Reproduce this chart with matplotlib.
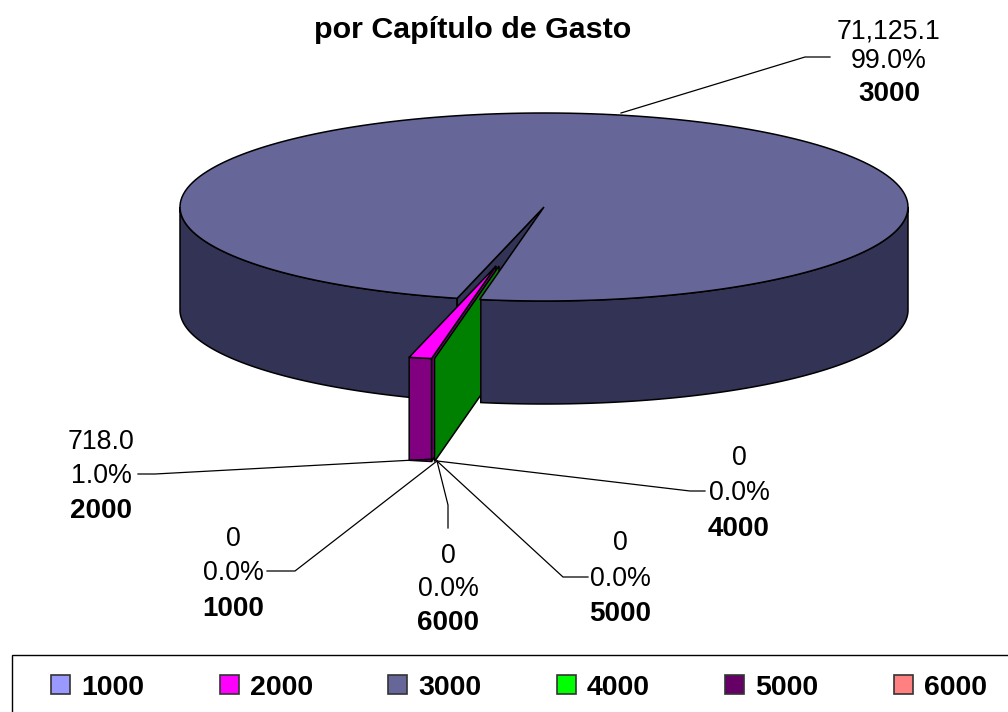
import numpy as np
import matplotlib
matplotlib.use("Agg")
import matplotlib.pyplot as plt
from matplotlib.patches import Polygon, Rectangle

plt.rcParams['font.family'] = ['Liberation Sans', 'DejaVu Sans']

#data
capitulos = ["1000", "2000", "3000", "4000", "5000", "6000"]
valores = [0, 718.0, 71125.1, 0, 0, 0]
colores = ["#9999FF", "#FF00FF", "#666699", "#00FF00", "#660066", "#FF8080"]
sombra = ["#4D4D80", "#800080", "#333355", "#008000", "#330033", "#804040"]

#label layout: centre x, y of the three lines, leader line
etiquetas = {
    "3000": (889, (30, 59, 92), [(621, 113), (805, 57), (830, 57)]),
    "2000": (101, (440, 474, 509), [(433, 459), (155, 474), (138, 474)]),
    "1000": (233, (537, 571, 607), [(437, 461), (295, 571), (267, 571)]),
    "6000": (448, (554, 587, 621), [(437, 461), (448, 505), (448, 528)]),
    "5000": (620, (541, 577, 612), [(437, 461), (563, 577), (588, 577)]),
    "4000": (739, (456, 491, 527), [(437, 461), (690, 491), (705, 491)]),
}

cx, cy, rx, ry, alto = 544, 207, 364, 94, 103
inicio = 100.2           #angle where the first slice starts, clockwise on screen
sep = (-48, 59)          #how far the small slice is pulled out

fig = plt.figure(figsize=(10.08, 7.12), dpi=100)
ax = fig.add_axes([0, 0, 1, 1])
ax.set_xlim(0, 1008)
ax.set_ylim(712, 0)
ax.axis("off")

def borde(a1, a2, dx=0, dy=0, n=200):
    t = np.radians(np.linspace(a1, a2, n))
    return np.column_stack([cx + dx + rx*np.cos(t), cy + dy + ry*np.sin(t)])

def pared(a1, a2, color, z):
    arriba = borde(a1, a2)
    abajo = arriba[::-1] + [0, alto]
    ax.add_patch(Polygon(np.vstack([arriba, abajo]), closed=True, fc=color, ec="black", lw=1.1, zorder=z))

total = sum(valores)
grados = [v/total*360 for v in valores]
a2000 = inicio + grados[0] + grados[1]      #end of slice 2000, start of 3000
a3000 = a2000 + grados[2]

#left side wall, then the inner wall of the gap
pared(a2000, 180, sombra[2], 1)
p = borde(a2000, a2000, n=1)[0]
ax.add_patch(Polygon([(cx, cy), p, p + [0, alto], (cx, cy + alto)], closed=True,
                     fc=sombra[2], ec="black", lw=1.1, zorder=2))

#walls of the empty slices that come out with 2000
q = borde(inicio, inicio, sep[0], sep[1], n=1)[0]
centro = np.array([cx + sep[0], cy + sep[1]])
#thin purple strip, green wall 3 px to its right
for d, col, z in [(0, sombra[1], 3), (3, sombra[3], 3.5)]:
    c = centro + [d, 0]
    e = q + [d, 0]
    ax.add_patch(Polygon([c, e, e + [0, alto], c + [0, alto]], closed=True,
                         fc=col, ec="black", lw=1.1, zorder=z))

#right wall and top of the big slice
pared(0, 100, sombra[2], 4)
ax.add_patch(Polygon(np.vstack([[cx, cy], borde(a2000, a3000)]), closed=True,
                     fc=colores[2], ec="black", lw=1.1, zorder=5))

#slice 2000
r = borde(a2000, a2000, sep[0], sep[1], n=1)[0]
ax.add_patch(Polygon([r, q, q + [0, alto], r + [0, alto]], closed=True,
                     fc=sombra[1], ec="black", lw=1.1, zorder=7))
ax.add_patch(Polygon(np.vstack([centro, borde(inicio, a2000, sep[0], sep[1], n=20)]), closed=True,
                     fc=colores[1], ec="black", lw=1.1, zorder=8))

#labels
fs = 19.3
for nombre, v in zip(capitulos, valores):
    x, ys, linea = etiquetas[nombre]
    ax.plot(*zip(*linea), color="black", lw=0.9, zorder=9)
    txt = f"{v:,.1f}" if v else "0"
    ax.text(x, ys[0] + 2, txt, ha="center", va="center", fontsize=fs, zorder=10)
    ax.text(x, ys[1] + 2, f"{v/total*100:.1f}%", ha="center", va="center", fontsize=fs, zorder=10)
    ax.text(x, ys[2] + 2, nombre, ha="center", va="center", fontsize=20, fontweight="bold", zorder=10)

ax.text(473, 30, "por Capítulo de Gasto", ha="center", va="center", fontsize=21.9, fontweight="bold")

#legend box runs off the right edge
ax.add_patch(Rectangle((12, 655), 1100, 100, fc="white", ec="black", lw=1.0, zorder=1))
for i, (nombre, col) in enumerate(zip(capitulos, colores)):
    x0 = 51 + i*168.6
    ax.add_patch(Rectangle((x0, 675), 19, 19, fc=col, ec="#333333", lw=1.2, zorder=2))
    ax.text(x0 + 30, 688, nombre, ha="left", va="center", fontsize=20.5, fontweight="bold", zorder=2)

fig.savefig("out.png", dpi=100)
